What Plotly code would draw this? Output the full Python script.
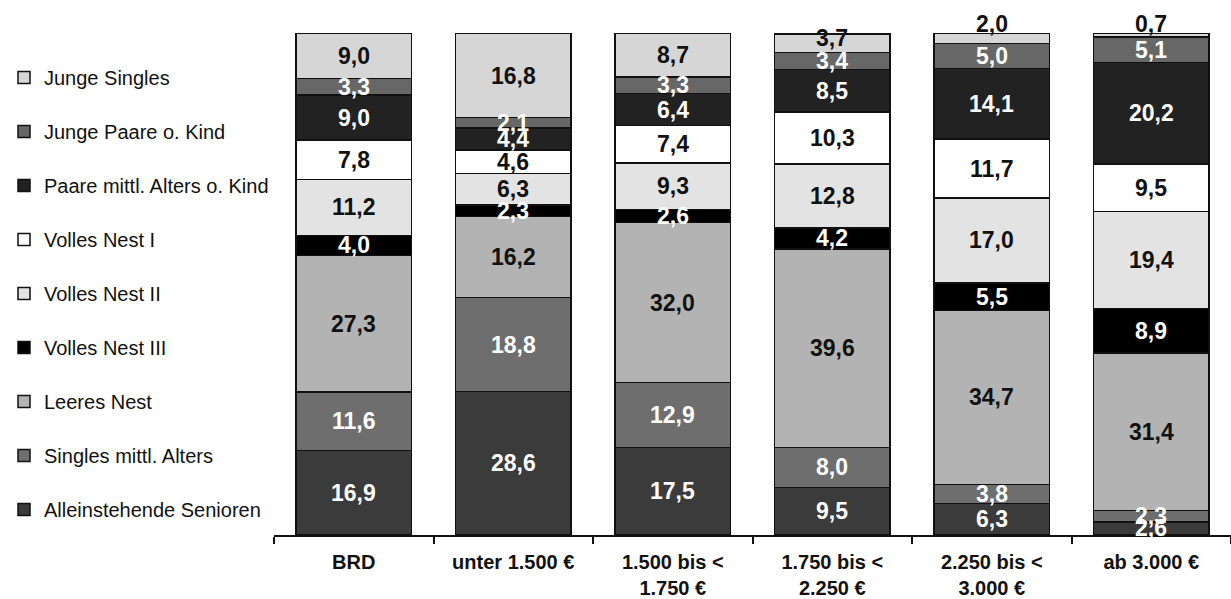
import plotly.graph_objects as go

# Household income classes (x axis)
categories = [
    "BRD",
    "unter 1.500 €",
    "1.500 bis <<br>1.750 €",
    "1.750 bis <<br>2.250 €",
    "2.250 bis <<br>3.000 €",
    "ab 3.000 €",
]

# Shares in percent per life-cycle stage (stacked bottom to top)
alleinstehende_senioren = [16.9, 28.6, 17.5, 9.5, 6.3, 2.6]
singles_mittl_alters = [11.6, 18.8, 12.9, 8.0, 3.8, 2.3]
leeres_nest = [27.3, 16.2, 32.0, 39.6, 34.7, 31.4]
volles_nest_3 = [4.0, 2.3, 2.6, 4.2, 5.5, 8.9]
volles_nest_2 = [11.2, 6.3, 9.3, 12.8, 17.0, 19.4]
volles_nest_1 = [7.8, 4.6, 7.4, 10.3, 11.7, 9.5]
paare_mittl_alters = [9.0, 4.4, 6.4, 8.5, 14.1, 20.2]
junge_paare = [3.3, 2.1, 3.3, 3.4, 5.0, 5.1]
junge_singles = [9.0, 16.8, 8.7, 3.7, 2.0, 0.7]

# (name, values, fill colour, label colour)
series = [
    ("Alleinstehende Senioren", alleinstehende_senioren, "#3b3b3b", "white"),
    ("Singles mittl. Alters", singles_mittl_alters, "#6e6e6e", "white"),
    ("Leeres Nest", leeres_nest, "#b3b3b3", "#111111"),
    ("Volles Nest III", volles_nest_3, "#000000", "white"),
    ("Volles Nest II", volles_nest_2, "#e3e3e3", "#111111"),
    ("Volles Nest I", volles_nest_1, "#ffffff", "#111111"),
    ("Paare mittl. Alters o. Kind", paare_mittl_alters, "#222222", "white"),
    ("Junge Paare o. Kind", junge_paare, "#676767", "white"),
    ("Junge Singles", junge_singles, "#d6d6d6", "#111111"),
]

FONT = "Liberation Sans, Arial, sans-serif"

fig = go.Figure()
annotations = []
base = [0.0] * len(categories)
n_series = len(series)

for idx, (name, vals, fill, txt_col) in enumerate(series):
    fig.add_trace(go.Bar(
        x=categories,
        y=vals,
        name=name,
        legendgroup=name,
        legendrank=n_series - idx,
        marker=dict(color=fill, line=dict(color="#111111", width=1.5)),
        hoverinfo="name+y",
    ))
    top_series = idx == n_series - 1
    for j, v in enumerate(vals):
        label = f"{v:.1f}".replace(".", ",")
        if top_series and v < 3:
            # too thin: put the value on top of the bar
            annotations.append(dict(
                x=categories[j], y=round(base[j] + v, 2), xref="x", yref="y",
                text=f"<b>{label}</b>", showarrow=False,
                yanchor="bottom", yshift=-5,
                font=dict(family=FONT, size=23, color="#111111"),
            ))
        elif top_series and v < 4:
            annotations.append(dict(
                x=categories[j], y=round(base[j] + v / 2, 2), xref="x", yref="y",
                text=f"<b>{label}</b>", showarrow=False, yshift=5,
                font=dict(family=FONT, size=23, color=txt_col),
            ))
        else:
            annotations.append(dict(
                x=categories[j], y=round(base[j] + v / 2, 2), xref="x", yref="y",
                text=f"<b>{label}</b>", showarrow=False,
                font=dict(family=FONT, size=23, color=txt_col),
            ))
        base[j] = round(base[j] + v, 2)

fig.update_layout(
    width=1231,
    height=599,
    barmode="stack",
    bargap=0.275,
    plot_bgcolor="white",
    paper_bgcolor="white",
    margin=dict(l=272, r=0, t=33, b=61),
    font=dict(family=FONT, color="#111111"),
    annotations=annotations,
    showlegend=True,
    legend=dict(
        xref="container", yref="container",
        x=4 / 1231, y=1 - 58 / 599,
        xanchor="left", yanchor="top",
        traceorder="grouped",
        tracegroupgap=25,
        maxheight=599,
        font=dict(family=FONT, size=20, color="#111111"),
        bgcolor="rgba(0,0,0,0)",
    ),
    xaxis=dict(
        type="category",
        showline=True,
        linecolor="#111111",
        linewidth=1.5,
        ticks="outside",
        tickson="boundaries",
        ticklen=7,
        tickcolor="#111111",
        tickwidth=1.5,
        ticklabelstandoff=8,
        tickfont=dict(family=FONT, size=20, color="#111111", weight="bold"),
        showgrid=False,
    ),
    yaxis=dict(
        range=[0, 100.2],
        visible=False,
        showgrid=False,
        zeroline=False,
    ),
)

fig.write_html("out.html")
